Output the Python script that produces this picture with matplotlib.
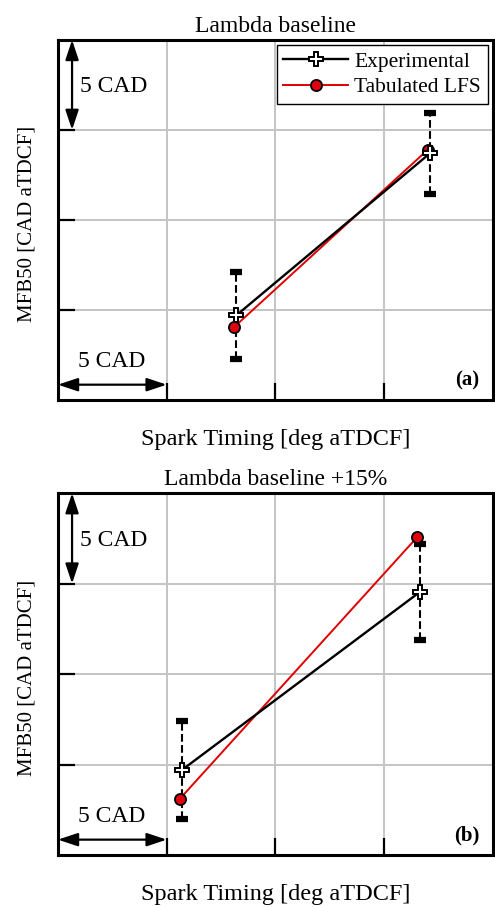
import matplotlib
matplotlib.use("Agg")
import matplotlib.pyplot as plt

plt.rcParams['font.family'] = ['Liberation Serif', 'DejaVu Serif']

titles = ["Lambda baseline", "Lambda baseline +15%"]
panel_tags = ["(a)", "(b)"]

# values in CAD (one grid cell = 5 CAD)
exp_x = [[8.2, 17.1], [5.7, 16.65]]
exp_y = [[4.7, 13.7], [4.7, 14.55]]
exp_err = [[2.4, 2.25], [2.7, 2.65]]
tab_x = [[8.1, 17.0], [5.6, 16.5]]
tab_y = [[4.05, 13.9], [3.1, 17.55]]

fig = plt.figure(figsize=(4.95, 9.07), dpi=100)
axes = [fig.add_axes([0.117, 0.559, 0.879, 0.397]),
        fig.add_axes([0.117, 0.0573, 0.879, 0.399])]

for i, ax in enumerate(axes):
    ax.set_xlim(0, 20)
    ax.set_ylim(0, 20)
    ax.set_xticks([5, 10, 15])
    ax.set_yticks([5, 10, 15])
    ax.grid(True, color='#c4c4c4', lw=1.4)
    ax.set_axisbelow(True)
    ax.tick_params(direction='in', length=12, width=1.6, labelleft=False, labelbottom=False)
    for sp in ax.spines.values():
        sp.set_linewidth(2.2)

    eb = ax.errorbar(exp_x[i], exp_y[i], yerr=exp_err[i], fmt='none', ecolor='k',
                     elinewidth=1.5, capsize=4.5, capthick=4.5, zorder=2)
    eb[2][0].set_linestyle('--')

    ax.plot(exp_x[i], exp_y[i], color='k', lw=1.7, marker='P', ms=10,
            mfc='white', mec='k', mew=1.4, label='Experimental', zorder=4)
    ax.plot(tab_x[i], tab_y[i], color='#e00000', lw=1.4, marker='o', ms=8,
            mfc='#e00010', mec='k', mew=1.3, label='Tabulated LFS', zorder=3)

    ax.set_title(titles[i], fontsize=17, pad=6)
    ax.set_xlabel('Spark Timing [deg aTDCF]', fontsize=17.5)
    ax.xaxis.set_label_coords(0.5, -0.11)
    ax.xaxis.label.set_va('center')
    ax.set_ylabel('MFB50 [CAD aTDCF]', fontsize=15)
    ax.yaxis.set_label_coords(-0.071, 0.49)
    ax.yaxis.label.set_va('center')

    # scale arrows
    arr = dict(arrowstyle='<|-|>,head_length=0.6,head_width=0.2', color='k', lw=1.6,
               shrinkA=0, shrinkB=0, mutation_scale=20)
    ax.annotate('', xy=(0.65, 15), xytext=(0.65, 20), arrowprops=arr, annotation_clip=False)
    ax.text(2.55, 17.4, '5 CAD', fontsize=17, ha='center', va='center')
    ax.annotate('', xy=(0, 0.85), xytext=(5, 0.85), arrowprops=arr, annotation_clip=False)
    ax.text(2.45, 2.15, '5 CAD', fontsize=17, ha='center', va='center')

    ax.text(18.8, 1.1, panel_tags[i], fontsize=15, fontweight='bold', ha='center', va='center')

axes[0].legend(loc='upper right', fontsize=15.5, frameon=True, fancybox=False,
               edgecolor='k', framealpha=1, borderaxespad=0.25, handlelength=3.0,
               handletextpad=0.3, borderpad=0.3, labelspacing=0.25)

fig.savefig('out.png', dpi=100)
